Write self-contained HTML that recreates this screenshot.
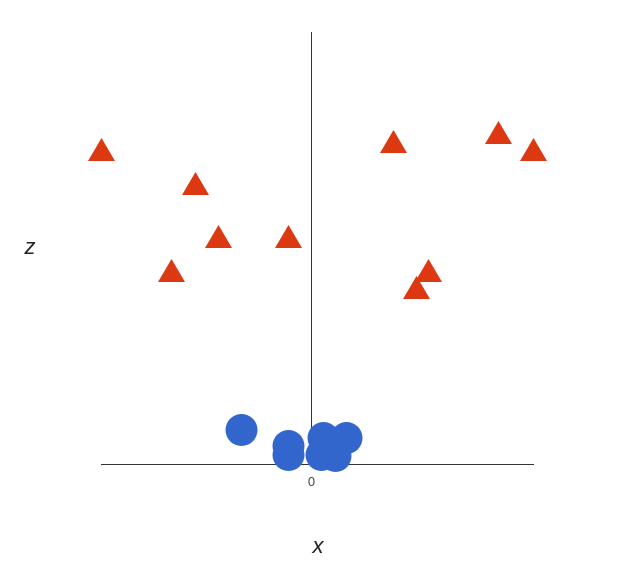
<!DOCTYPE html>
<html><head><meta charset="utf-8"><style>
html,body{margin:0;padding:0;background:#fff;}
svg{display:block;}
</style></head><body>
<svg id="chart" width="635" height="587" xmlns="http://www.w3.org/2000/svg">
<rect width="635" height="587" fill="#fff"/>
<line x1="311.5" y1="32" x2="311.5" y2="464" stroke="#333" stroke-width="1"/>
<line x1="101" y1="464.5" x2="534" y2="464.5" stroke="#333" stroke-width="1"/>
<g id="marks"></g>
<g id="ticks"></g>
<text x="30" y="254" font-family="Liberation Sans, sans-serif" font-size="22" font-style="italic" fill="#222" text-anchor="middle">z</text>
<text x="318" y="553" font-family="Liberation Sans, sans-serif" font-size="22" font-style="italic" fill="#222" text-anchor="middle">x</text>
</svg>
<script>
const triX = [-21, -11.6, -9.3, -2.3, -14, 8.2, 18.7, 22.2, 11.7, 10.5];
const triZ = [31.4, 28, 22.7, 22.7, 19.3, 32.2, 33.1, 31.4, 19.3, 17.6];
const circX = [-7, -2.3, -2.3, 1.2, 3.5, 1, 2.4];
const circZ = [3.4, 1.8, 0.9, 2.6, 2.6, 0.9, 0.8];
const tickVals = [0];
const tickLabels = ["0"];

const NS = "http://www.w3.org/2000/svg";
function xs(v){ return 311.5 + v*10; }
function zs(v){ return 464 - v*10; }
const g = document.getElementById('marks');
for (let i=0;i<circX.length;i++){
  const c = document.createElementNS(NS,'circle');
  c.setAttribute('cx', xs(circX[i]));
  c.setAttribute('cy', zs(circZ[i]));
  c.setAttribute('r', 16);
  c.setAttribute('fill', '#3366cc');
  
  
  g.appendChild(c);
}
for (let i=0;i<triX.length;i++){
  const cx = xs(triX[i]), cy = zs(triZ[i]);
  const p = document.createElementNS(NS,'polygon');
  p.setAttribute('points', `${cx},${cy-12} ${cx+13.5},${cy+11} ${cx-13.5},${cy+11}`);
  p.setAttribute('fill', '#dc3912');
  
  
  g.appendChild(p);
}
const tg = document.getElementById('ticks');
for (let i=0;i<tickVals.length;i++){
  const t = document.createElementNS(NS,'text');
  t.setAttribute('x', xs(tickVals[i]));
  t.setAttribute('y', 486);
  t.setAttribute('text-anchor','middle');
  t.setAttribute('font-family','Liberation Sans, sans-serif');
  t.setAttribute('font-size','13');
  t.setAttribute('fill','#444');
  t.textContent = tickLabels[i];
  
  
  tg.appendChild(t);
}
</script>
</body></html>
